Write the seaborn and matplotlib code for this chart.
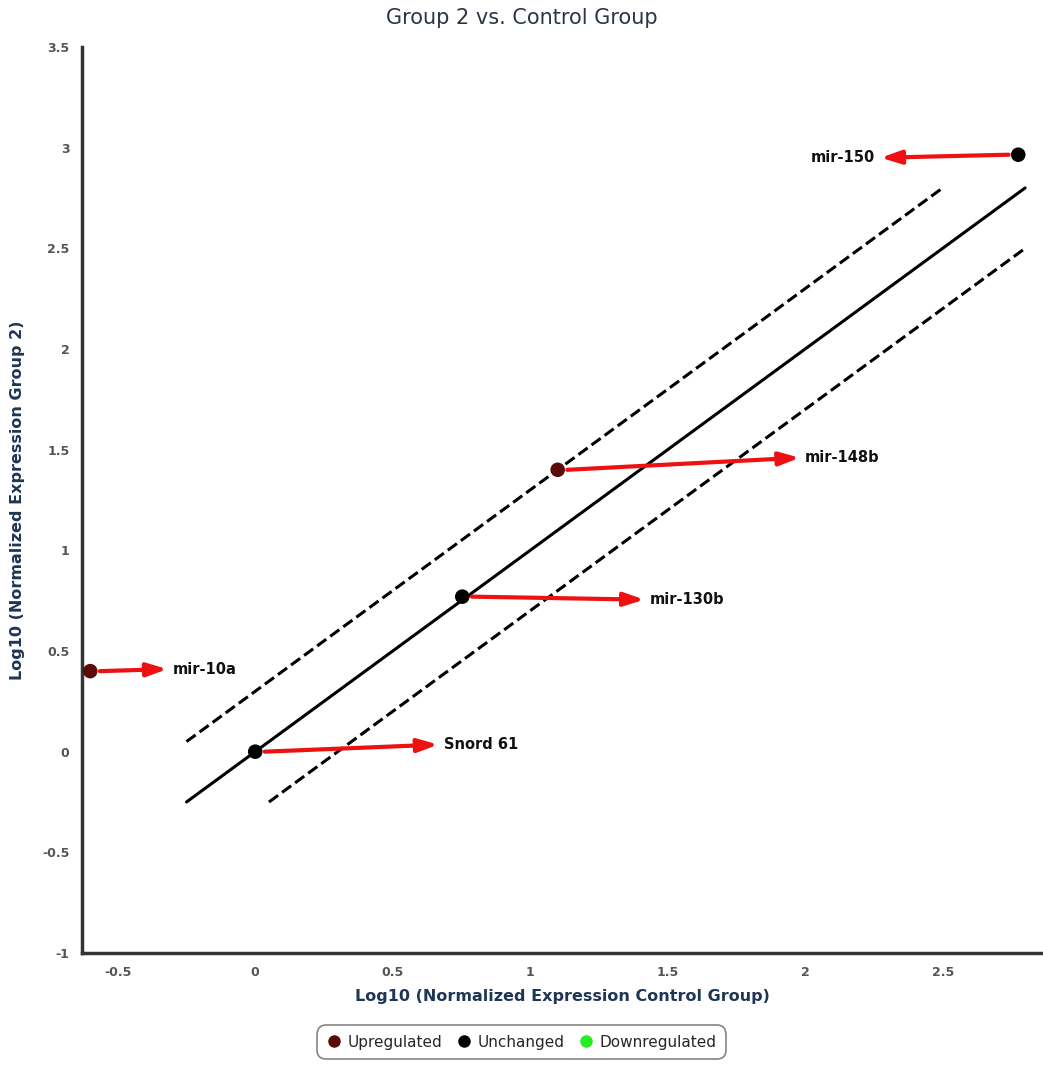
import numpy as np
import pandas as pd
import matplotlib
matplotlib.use("Agg")
import matplotlib.pyplot as plt
from matplotlib.lines import Line2D
import seaborn as sns

# ---- data ----
genes = ["mir-150", "mir-148b", "mir-130b", "mir-10a", "Snord 61"]
x_ctrl = [2.775, 1.10, 0.753, -0.60, 0.0]
y_grp2 = [2.965, 1.40, 0.77, 0.40, 0.0]
status = ["Unchanged", "Upregulated", "Unchanged", "Upregulated", "Unchanged"]
# label anchor positions (data coords) for the arrows
label_x = [2.255, 2.00, 1.435, -0.30, 0.685]
label_y = [2.95, 1.46, 0.755, 0.41, 0.035]
label_ha = ["right", "left", "left", "left", "left"]

# reference lines: y = x + offset
line_offsets = [0.0, 0.3, -0.3]
line_x0 = [-0.25, -0.25, 0.05]
line_x1 = [2.8, 2.5, 2.8]
line_styles = ["-", "--", "--"]

categories = ["Upregulated", "Unchanged", "Downregulated"]
cat_colors = {"Upregulated": "#5c0b0b", "Unchanged": "#000000", "Downregulated": "#22ee22"}

xticks = [-0.5, 0, 0.5, 1, 1.5, 2, 2.5]
yticks = [-1, -0.5, 0, 0.5, 1, 1.5, 2, 2.5, 3, 3.5]

df = pd.DataFrame({"gene": genes, "x": x_ctrl, "y": y_grp2, "status": status})

sns.set_style("white")
plt.rcParams['font.family'] = ['DejaVu Sans']

fig = plt.figure(figsize=(10.43, 10.66), dpi=100)
ax = fig.add_axes([82/1043, 113/1066, 1 - 82/1043, (953-47)/1066])

for off, a, b, ls in zip(line_offsets, line_x0, line_x1, line_styles):
    ldf = pd.DataFrame({"x": [a, b], "y": [a + off, b + off]})
    sns.lineplot(data=ldf, x="x", y="y", ax=ax, color="black", lw=2.2,
                 linestyle=ls, zorder=2)

for xs, ys, lx, ly, ha, name in zip(x_ctrl, y_grp2, label_x, label_y, label_ha, genes):
    dx = 0.035 if lx > xs else -0.035
    ax.annotate("", xy=(lx - (0.02 if ha == "left" else -0.02), ly), xytext=(xs + dx, ys),
                arrowprops=dict(arrowstyle="-|>,head_length=0.6,head_width=0.2",
                                color="#ee1111", lw=3,
                                mutation_scale=20, shrinkA=0, shrinkB=0), zorder=3)
    ax.text(lx, ly, name, ha=ha, va="center", fontsize=10.5, fontweight="bold",
            color="#111111", zorder=4)

sns.scatterplot(data=df, x="x", y="y", hue="status", hue_order=categories,
                palette=cat_colors, s=110, edgecolor="none", legend=False,
                ax=ax, zorder=5, clip_on=False)

ax.set_xlim(-0.63, 2.865)
ax.set_ylim(-1, 3.5)
ax.set_xticks(xticks)
ax.set_xticklabels([f"{t:g}" for t in xticks])
ax.set_yticks(yticks)
ax.set_yticklabels([f"{t:g}" for t in yticks])
ax.tick_params(axis="both", labelsize=9, colors="#555555", length=3, width=0.8,
               direction="out", pad=6)
for lab in ax.get_xticklabels() + ax.get_yticklabels():
    lab.set_fontweight("bold")

for s in ["top", "right"]:
    ax.spines[s].set_visible(False)
for s in ["left", "bottom"]:
    ax.spines[s].set_color("#333333")
    ax.spines[s].set_linewidth(2.5)

ax.set_xlabel("Log10 (Normalized Expression Control Group)", fontsize=11.5,
              fontweight="bold", color="#1f3555")
ax.xaxis.set_label_coords(0.5, -(997 - 953) / 906)
ax.set_ylabel("Log10 (Normalized Expression Group 2)", fontsize=11.5,
              fontweight="bold", color="#1f3555")
ax.yaxis.set_label_coords(-(82 - 18) / 961, 0.5)
ax.yaxis.label.set_va("center")
ax.xaxis.label.set_va("center")
fig.text(0.5, 1 - 18/1066, "Group 2 vs. Control Group", ha="center", va="center",
         fontsize=15, color="#2a3545")

handles = [Line2D([0], [0], marker="o", linestyle="none", markersize=9,
                  markerfacecolor=cat_colors[c], markeredgecolor="none", label=c)
           for c in categories]
leg = fig.legend(handles=handles, loc="center", bbox_to_anchor=(0.5, 1 - 1042/1066),
                 ncol=3, frameon=True, fontsize=11, handletextpad=0.4,
                 columnspacing=0.9, borderpad=0.4, handlelength=1.0)
leg.get_frame().set_edgecolor("#666666")
leg.get_frame().set_linewidth(1.2)
leg.get_frame().set_boxstyle("round,pad=0.2,rounding_size=0.6")

fig.savefig("out.png", dpi=100)
